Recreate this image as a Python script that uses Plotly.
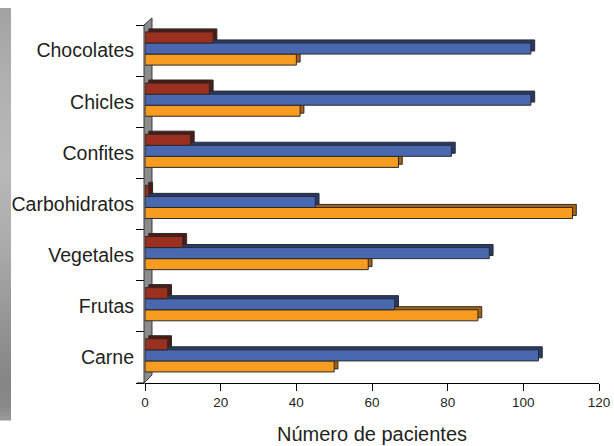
import plotly.graph_objects as go

# Food categories (bottom to top) and patient counts per series
categories = ["Carne", "Frutas", "Vegetales", "Carbohidratos", "Confites", "Chicles", "Chocolates"]
serie_roja = [6, 6, 10, 1, 12, 17, 18]
serie_azul = [104, 66, 91, 45, 81, 102, 102]
serie_naranja = [50, 88, 59, 113, 67, 41, 40]
x_ticks = [0, 20, 40, 60, 80, 100, 120]

FONT = "Liberation Sans, Arial, sans-serif"
TEXT = "#231f20"
EDGE = "#2b2b2b"

# front face: colour, offset within the category band, depth colour
series = [
    (serie_naranja, "#f79c20", -0.284, "#a8620e"),
    (serie_azul, "#4a68b0", -0.068, "#28396e"),
    (serie_roja, "#9c3020", 0.148, "#4e1a12"),
]
BAR_W = 0.216
DEPTH_X = 1.0   # sideways extrusion in data units
DEPTH_Y = 0.06  # upward extrusion in category units

fig = go.Figure()
for vals, col, off, dcol in series:
    # extruded back face gives the 3-D look
    fig.add_trace(go.Bar(
        y=categories, x=vals, base=[DEPTH_X] * len(vals), orientation="h",
        offset=off + DEPTH_Y, width=BAR_W,
        marker=dict(color=dcol, line=dict(color=EDGE, width=1)),
        showlegend=False, hoverinfo="skip",
    ))
    fig.add_trace(go.Bar(
        y=categories, x=vals, orientation="h",
        offset=off, width=BAR_W,
        marker=dict(color=col, line=dict(color=EDGE, width=1)),
        showlegend=False,
    ))

shapes = []

# pixel helpers for the decorative frame pieces (plot area is 454 x 358 px)
W_PX, H_PX = 454.0, 358.0
def px_x(px):
    return (px - 145) / W_PX
def px_y(py):
    return (383 - py) / H_PX

# grey side wall behind the bars
wall_path = "M {:.4f},{:.4f} L {:.4f},{:.4f} L {:.4f},{:.4f} L {:.4f},{:.4f} Z".format(
    px_x(144), px_y(383), px_x(144), px_y(25), px_x(152), px_y(18), px_x(152), px_y(375))
shapes.append(dict(type="path", xref="paper", yref="paper", path=wall_path,
                   fillcolor="#8c8c8c", line=dict(color="#3a3a3a", width=1), layer="below"))

# floor edge continuing left of the zero line
shapes.append(dict(type="line", xref="paper", yref="paper",
                   x0=px_x(137), x1=0, y0=0, y1=0, line=dict(color="black", width=1)))

# smooth grey gradient strip at the left border
grey_stops = [(8, 162), (80, 176), (170, 184), (250, 170), (330, 146), (380, 134), (405, 136), (420, 154)]
top_px, bot_px, n_bands = 8, 420, 103
band = (bot_px - top_px) / n_bands
for i in range(n_bands):
    y_top = top_px + i * band
    mid = y_top + band / 2
    for (ya, ga), (yb, gb) in zip(grey_stops[:-1], grey_stops[1:]):
        if ya <= mid <= yb:
            g = round(ga + (gb - ga) * (mid - ya) / (yb - ya))
            break
    shapes.append(dict(type="rect", xref="paper", yref="paper",
                       x0=px_x(0), x1=px_x(11), y0=px_y(y_top + band + 0.5), y1=px_y(y_top),
                       fillcolor=f"rgb({g},{g},{g})", line=dict(width=0), layer="below"))

fig.update_layout(
    barmode="overlay",
    width=614, height=446,
    margin=dict(l=145, r=15, t=25, b=63, autoexpand=False),
    paper_bgcolor="white",
    plot_bgcolor="rgba(0,0,0,0)",
    font=dict(family=FONT, color=TEXT),
    shapes=shapes,
    xaxis=dict(
        range=[0, 120], tickvals=x_ticks, ticks="outside", ticklen=7,
        tickcolor="black", showline=True, linecolor="black", linewidth=1,
        showgrid=False, zeroline=False, tickfont=dict(size=13.5, color=TEXT),
        title=dict(text="Número de pacientes", font=dict(size=20, color=TEXT), standoff=17),
        automargin=False,
    ),
    yaxis=dict(
        type="category", categoryorder="array", categoryarray=categories,
        range=[-0.5, 6.5], ticks="outside", tickson="boundaries", ticklen=8,
        tickcolor="black", showline=False, showgrid=False, zeroline=False,
        tickfont=dict(size=19.5, color=TEXT), ticklabelstandoff=10, automargin=False,
    ),
)

fig.write_html("out.html")
